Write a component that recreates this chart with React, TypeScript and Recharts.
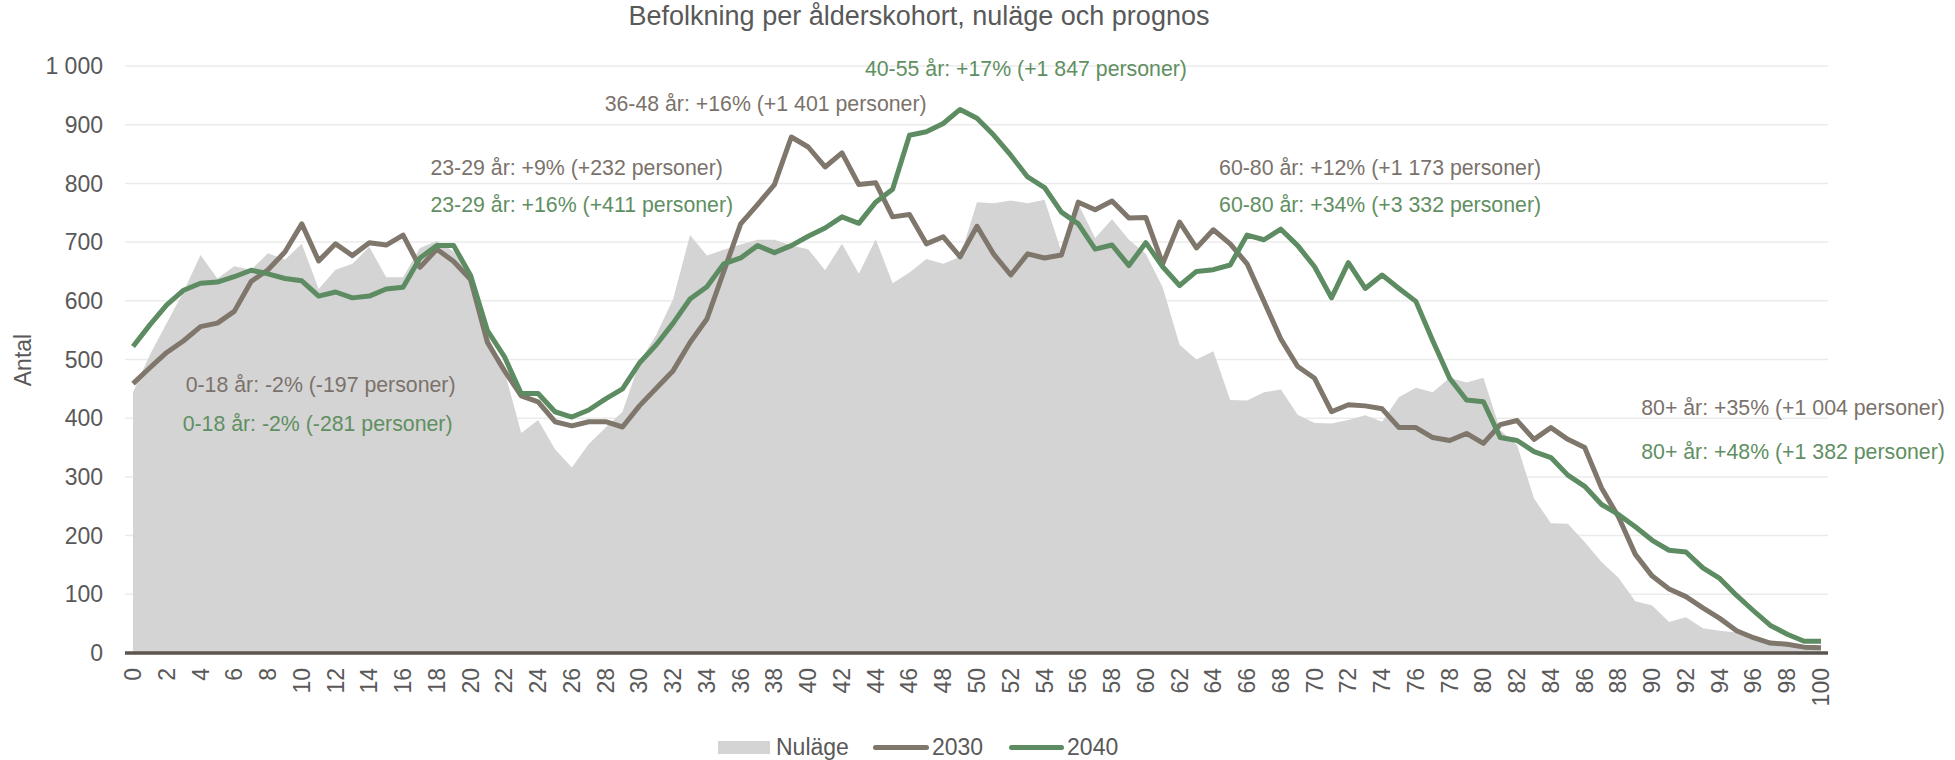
import {
  ComposedChart,
  Area,
  Line,
  XAxis,
  YAxis,
  CartesianGrid,
  ReferenceDot,
} from "recharts";

// ålder 0-100
const ages = [
  0, 1, 2, 3, 4, 5, 6, 7, 8, 9, 10, 11, 12, 13, 14, 15, 16, 17, 18, 19, 20,
  21, 22, 23, 24, 25, 26, 27, 28, 29, 30, 31, 32, 33, 34, 35, 36, 37, 38, 39,
  40, 41, 42, 43, 44, 45, 46, 47, 48, 49, 50, 51, 52, 53, 54, 55, 56, 57, 58,
  59, 60, 61, 62, 63, 64, 65, 66, 67, 68, 69, 70, 71, 72, 73, 74, 75, 76, 77,
  78, 79, 80, 81, 82, 83, 84, 85, 86, 87, 88, 89, 90, 91, 92, 93, 94, 95, 96,
  97, 98, 99, 100,
];

const nulage = [
  444, 508, 562, 616, 678, 638, 659, 653, 681, 670, 697, 620, 653, 663, 692,
  640, 640, 690, 702, 684, 643, 542, 481, 375, 397, 347, 316, 356, 384, 411,
  495, 542, 603, 712, 677, 687, 696, 704, 704, 694, 688, 652, 697, 646, 705,
  630, 648, 671, 663, 675, 768, 766, 771, 766, 772, 684, 765, 707, 739, 704,
  680, 623, 525, 500, 514, 431, 430, 444, 449, 406, 392, 391, 397, 405, 394,
  436, 452, 444, 469, 461, 469, 380, 354, 263, 221, 220, 189, 155, 128, 88,
  81, 53, 61, 42, 38, 35, 27, 20, 15, 10, 9,
];

const prognos2030 = [
  459, 486, 512, 532, 556, 562, 582, 633, 653, 683, 731, 668, 697, 677, 699,
  695, 712, 657, 688, 667, 636, 529, 481, 438, 428, 394, 387, 394, 394, 385,
  421, 451, 481, 529, 569, 650, 731, 764, 798, 879, 862, 828, 852, 798, 801,
  743, 747, 697, 709, 675, 727, 679, 644, 680, 673, 678, 768, 755, 770, 741,
  742, 663, 734, 690, 721, 697, 663, 599, 535, 488, 468, 411, 423, 421, 416,
  384, 384, 367, 362, 374, 357, 389, 396, 364, 384, 364, 350, 281, 232, 168,
  131, 109, 96, 77, 59, 38, 26, 17, 15, 10, 9,
];

const prognos2040 = [
  522, 559, 593, 618, 630, 632, 641, 652, 646, 638, 634, 608, 615, 605, 608,
  620, 623, 673, 694, 694, 643, 549, 505, 442, 442, 411, 402, 414, 433, 450,
  494, 525, 562, 603, 624, 663, 673, 694, 682, 694, 710, 724, 743, 732, 768,
  790, 882, 888, 902, 926, 911, 882, 848, 811, 793, 751, 731, 688, 695, 660,
  699, 658, 626, 650, 653, 661, 712, 704, 722, 694, 658, 605, 665, 621, 644,
  621, 599, 532, 468, 431, 428, 367, 362, 343, 333, 303, 284, 253, 236, 215,
  192, 175, 172, 145, 127, 98, 72, 47, 32, 20, 20,
];

const xTicks = [
  0, 2, 4, 6, 8, 10, 12, 14, 16, 18, 20, 22, 24, 26, 28, 30, 32, 34, 36, 38,
  40, 42, 44, 46, 48, 50, 52, 54, 56, 58, 60, 62, 64, 66, 68, 70, 72, 74, 76,
  78, 80, 82, 84, 86, 88, 90, 92, 94, 96, 98, 100,
];
const yTicks = [0, 100, 200, 300, 400, 500, 600, 700, 800, 900, 1000];

const BROWN = "#7f766c";
const GREEN = "#5e8c62";
const BROWN_TEXT = "#7b726b";
const GREEN_TEXT = "#5f8f62";
const TEXT = "#595959";

// textrutor, förankrade i diagrammets koordinater (ålder, antal)
const notes = [
  { text: "36-48 år: +16% (+1 401 personer)", age: 27.94, val: 937, color: BROWN_TEXT },
  { text: "40-55 år: +17% (+1 847 personer)", age: 43.36, val: 995, color: GREEN_TEXT },
  { text: "23-29 år: +9% (+232 personer)", age: 17.62, val: 828, color: BROWN_TEXT },
  { text: "23-29 år: +16% (+411 personer)", age: 17.62, val: 765, color: GREEN_TEXT },
  { text: "60-80 år: +12% (+1 173 personer)", age: 64.34, val: 828, color: BROWN_TEXT },
  { text: "60-80 år: +34% (+3 332 personer)", age: 64.34, val: 765, color: GREEN_TEXT },
  { text: "0-18 år: -2% (-197 personer)", age: 3.12, val: 457, color: BROWN_TEXT },
  { text: "0-18 år: -2% (-281 personer)", age: 2.94, val: 391, color: GREEN_TEXT },
  { text: "80+ år: +35% (+1 004 personer)", age: 89.35, val: 419, color: BROWN_TEXT },
  { text: "80+ år: +48% (+1 382 personer)", age: 89.35, val: 344, color: GREEN_TEXT },
];

const data = ages.map((age, i) => ({
  age,
  nulage: nulage[i],
  y2030: prognos2030[i],
  y2040: prognos2040[i],
}));

const fmt = (v: number) =>
  String(v).replace(/\B(?=(\d{3})+(?!\d))/g, " ");

function XTick({ x, y, payload }: any) {
  return (
    <text
      x={x}
      y={y}
      transform={`rotate(-90 ${x} ${y})`}
      textAnchor="end"
      dominantBaseline="central"
      fontSize={23}
      fill={TEXT}
    >
      {payload.value}
    </text>
  );
}

export default function App() {
  return (
    <div
      style={{
        position: "absolute",
        left: 0,
        top: 0,
        width: 1955,
        height: 760,
        background: "#fff",
        fontFamily: "'Liberation Sans', Arial, sans-serif",
      }}
    >
      <div
        style={{
          position: "absolute",
          left: 0,
          width: 1838,
          top: 3,
          textAlign: "center",
          fontSize: 27,
          lineHeight: "27px",
          color: TEXT,
        }}
      >
        Befolkning per ålderskohort, nuläge och prognos
      </div>
      <div
        style={{
          position: "absolute",
          left: 23,
          top: 360,
          transform: "translate(-50%, -50%) rotate(-90deg)",
          fontSize: 23,
          color: TEXT,
          whiteSpace: "nowrap",
        }}
      >
        Antal
      </div>

      <ComposedChart
        width={1955}
        height={760}
        data={data}
        margin={{ top: 66, right: 127, bottom: 47, left: 0 }}
      >
        <CartesianGrid vertical={false} stroke="#ebebeb" strokeWidth={1.5} />
        <XAxis
          dataKey="age"
          type="number"
          domain={[0, 100]}
          ticks={xTicks}
          interval={0}
          padding={{ left: 8, right: 7 }}
          height={60}
          tickSize={0}
          tickMargin={15}
          tickLine={false}
          axisLine={{ stroke: "#5c544e", strokeWidth: 3.3 }}
          tick={(p: any) => <XTick {...p} />}
        />
        <YAxis
          width={125}
          domain={[0, 1000]}
          ticks={yTicks}
          interval={0}
          axisLine={false}
          tickLine={false}
          tickSize={0}
          tickMargin={22}
          tickFormatter={fmt}
          tick={{ fontSize: 23, fill: TEXT }}
        />
        <Area
          dataKey="nulage"
          type="linear"
          stroke="none"
          fill="#d4d4d4"
          fillOpacity={1}
          activeDot={false}
          isAnimationActive={false}
        />
        <Line
          dataKey="y2030"
          type="linear"
          stroke={BROWN}
          strokeWidth={5}
          strokeLinejoin="round"
          dot={false}
          activeDot={false}
          isAnimationActive={false}
        />
        <Line
          dataKey="y2040"
          type="linear"
          stroke={GREEN}
          strokeWidth={5}
          strokeLinejoin="round"
          dot={false}
          activeDot={false}
          isAnimationActive={false}
        />
        {notes.map((n) => (
          <ReferenceDot
            key={n.text}
            x={n.age}
            y={n.val}
            r={0}
            fill="none"
            stroke="none"
            label={{
              value: n.text,
              position: "right",
              offset: 0,
              fill: n.color,
              fontSize: 21.3,
            }}
          />
        ))}
      </ComposedChart>

      <div
        style={{
          position: "absolute",
          left: 718,
          top: 733,
          height: 28,
          display: "flex",
          alignItems: "center",
          fontSize: 23,
          color: TEXT,
          whiteSpace: "nowrap",
        }}
      >
        <span style={{ width: 52, height: 13, background: "#d4d4d4" }} />
        <span style={{ marginLeft: 6 }}>Nuläge</span>
        <span
          style={{
            width: 56,
            height: 5,
            borderRadius: 3,
            background: BROWN,
            marginLeft: 24,
          }}
        />
        <span style={{ marginLeft: 3 }}>2030</span>
        <span
          style={{
            width: 55,
            height: 5,
            borderRadius: 3,
            background: GREEN,
            marginLeft: 26,
          }}
        />
        <span style={{ marginLeft: 3 }}>2040</span>
      </div>
    </div>
  );
}
